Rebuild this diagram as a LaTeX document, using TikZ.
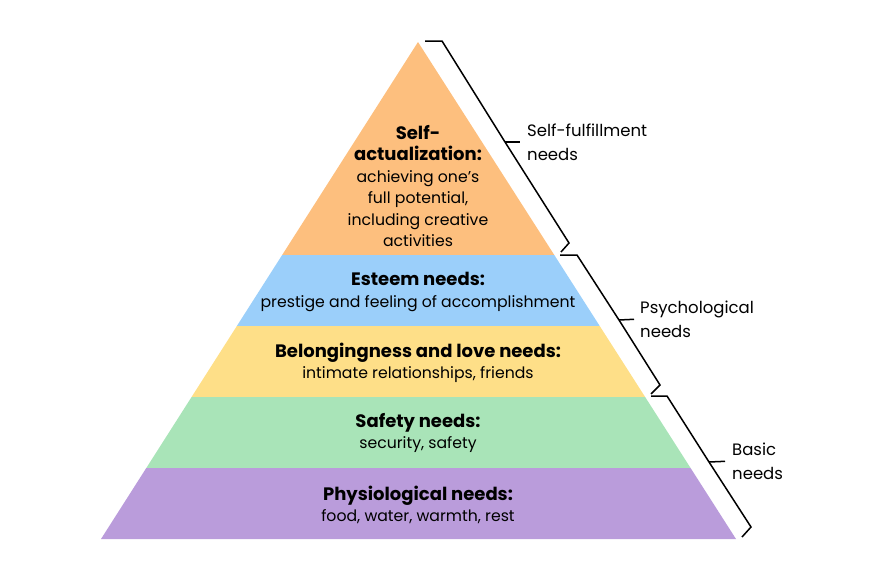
\documentclass[tikz,border=0pt]{standalone}
\usepackage{fontspec}
\setmainfont{Poppins}
\usetikzlibrary{calc}

\definecolor{selfcol}{HTML}{FDBF7E}
\definecolor{esteemcol}{HTML}{9BCFFA}
\definecolor{lovecol}{HTML}{FEDF88}
\definecolor{safecol}{HTML}{A9E4B8}
\definecolor{physcol}{HTML}{BA9CDB}
\newcommand{\hd}[1]{{\fontsize{18}{21}\selectfont\bfseries #1}}

\begin{document}
\begin{tikzpicture}[x=1pt,y=-1pt]
\useasboundingbox (0,0) rectangle (877,579);
\tikzstyle{every node}=[align=center,inner sep=0pt,font=\fontsize{15.7}{21.5}\selectfont];
\tikzstyle{brace}=[draw,line width=1.5pt,line join=miter];
\tikzstyle{side}=[anchor=west,align=left,font=\fontsize{16.5}{24}\selectfont];
\coordinate (top) at (418,42);
\coordinate (bl) at (101,539);
\coordinate (br) at (736,539);
% layers of the pyramid
\foreach \a/\b/\c in {0/3/selfcol,3/4/esteemcol,4/5/lovecol,5/6/safecol,6/7/physcol}
  \fill[\c] ($(top)!\a/7!(bl)$) -- ($(top)!\b/7!(bl)$) -- ($(top)!\b/7!(br)$) -- ($(top)!\a/7!(br)$) -- cycle;
\path (418,186) node (selfact) {\hd{Self-}\\\hd{actualization:}\\achieving one's\\full potential,\\including creative\\activities};
\path (418,292) node (esteem) {\hd{Esteem needs:}\\prestige and feeling of accomplishment};
\path (418,363) node (love) {\hd{Belongingness and love needs:}\\intimate relationships, friends};
\path (418,433) node (safety) {\hd{Safety needs:}\\security, safety};
\path (418,505) node (phys) {\hd{Physiological needs:}\\food, water, warmth, rest};
% braces
\path (527,142) node[side] (lab1) {Self-fulfillment\\needs};
\path (640,319) node[side] (lab2) {Psychological\\needs};
\path (732,461) node[side] (lab3) {Basic\\needs};
\draw[brace] (425,41) -- (442,41) -- (505,142) coordinate (t1) -- (569,243) -- (561,252);
\draw[brace] (560,255) -- (577,255) -- (619,320) coordinate (t2) -- (660,385) -- (651,394);
\draw[brace] (651,396) -- (667,396) -- (709,462) coordinate (t3) -- (751,527) -- (742,537);
\draw[brace,shorten >=7pt] (t1) -- (lab1.west);
\draw[brace,shorten >=6pt] (t2) -- (lab2.west);
\draw[brace,shorten >=7pt] (t3) -- (lab3.west);
\end{tikzpicture}
\end{document}
